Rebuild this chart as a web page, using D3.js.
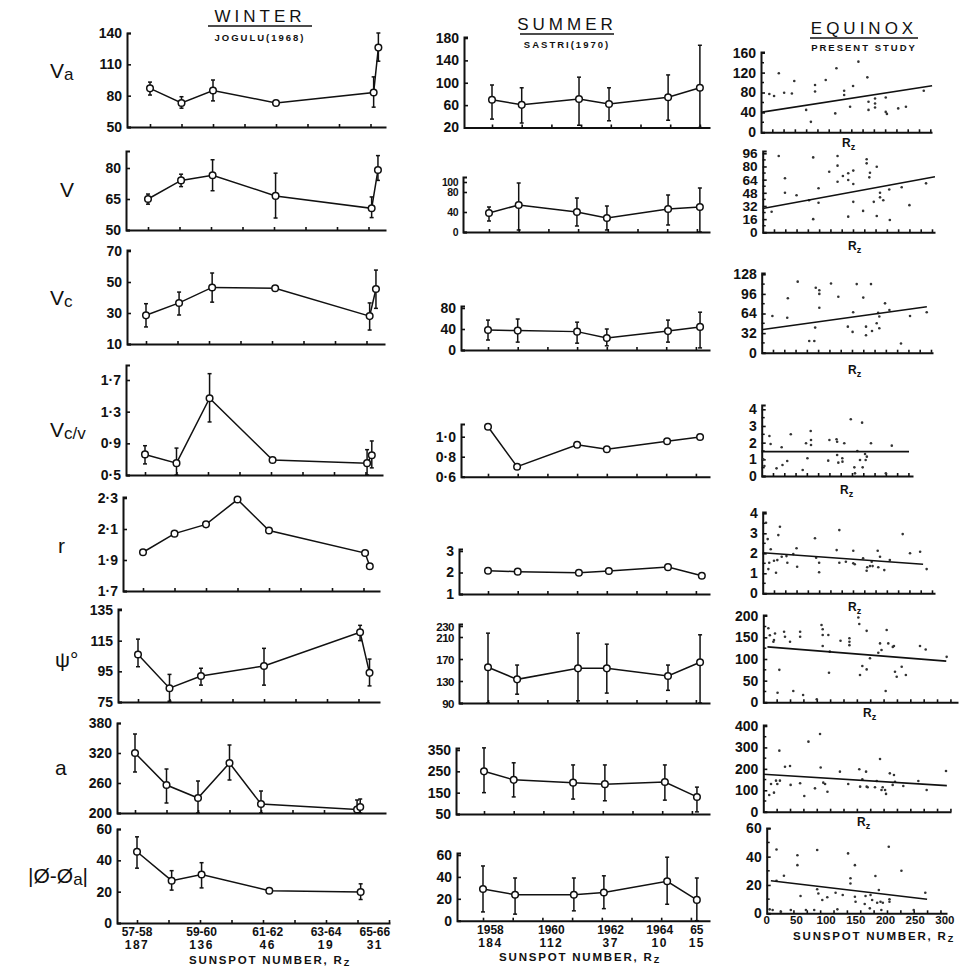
<!DOCTYPE html>
<meta charset="utf-8">
<style>
body { margin: 0; background: #fff; }
svg { font-family: "Liberation Sans", Arial, sans-serif; }
.axis path { stroke: #111; stroke-width: 2; fill: none; }
.axis line { stroke: #111; stroke-width: 1.6; }
.axis text { fill: #111; font-weight: bold; }
.series { fill: none; stroke: #111; stroke-width: 1.5; }
.err { stroke: #111; stroke-width: 1.5; }
.pt { fill: #fff; stroke: #111; stroke-width: 1.5; }
.dot { fill: #333; }
.fit { stroke: #111; stroke-width: 1.6; }
.lbl { fill: #111; font-weight: bold; }
</style>
<svg width="969" height="970"></svg>
<script src="https://cdn.jsdelivr.net/npm/d3@7"></script>
<script>

var svg = d3.select("svg");

// ---------- data ----------
var winterTicks = [[50,80,110,140],[50,65,80],[10,30,50,70],[0.5,0.9,1.3,1.7],[1.7,1.9,2.1,2.3],[75,95,115,135],[200,260,320,380],[0,20,40,60]];
var summerTicks = [[20,60,100,140,180],[0,40,80,100],[0,40,80],[0.6,0.8,1.0],[1,2,3],[90,130,170,210,230],[50,150,250,350],[0,20,40,60]];
var equinoxTicks = [[0,40,80,120,160],[0,16,32,48,64,80,96],[0,32,64,96,128],[0,1,2,3,4],[0,1,2,3,4],[0,50,100,150,200],[0,100,200,300,400],[0,20,40,60]];
var tickDecimals = [0,0,0,1,1,0,0,0];
var summerDecimals = [0,0,0,1,0,0,0,0];

// winter (Jogulu 1968): x position in tick units, mean, error bar low / high
var winterPos = [[0,1,2,4,7.1,7.25],[0,1.05,2.05,4.05,7.1,7.3],[0,1.05,2.1,4.1,7.1,7.3],[0,1,2.05,4.05,7.05,7.2],
                 [0,1,2,3,4,7.05,7.2],[0,1,2,4,7.05,7.35],[0,1,2,3,4,7.05,7.15],[0,1.1,2.05,4.2,7.1]];
var winterMean = [[87,73,85,73,83,126],[65,74,76.5,66.5,60.5,79],[28.5,36.5,46.5,46,28,45.5],[0.76,0.65,1.47,0.69,0.65,0.75],
                  [1.95,2.07,2.13,2.29,2.09,1.945,1.86],[106,84,92,98.5,120.5,94],[320,256,230,300,218,207,212],[45.5,27,31,20.6,19.8]];
var winterLo = [[80.6,68,75,null,69,113],[62.5,71,69,55.8,56,74],[21,28.7,37,null,19,33],[0.64,0.5,1.17,null,0.5,0.59],
                [null,null,null,null,null,null,null],[98,75.5,86,86,115,85.5],[282,220,200,266,200,200,200],[35,21,22.4,null,15]];
var winterHi = [[93,79,95,null,98,140],[67.4,77,84,77.5,66,86],[36,43.5,55.8,null,36.5,57.7],[0.87,0.84,1.78,null,0.82,0.93],
                [null,null,null,null,null,null,null],[116,93,97,110,125,103],[358,288,264,336,244,226,228],[55,33.4,38.5,null,25]];
var winterYears = ["57-58","59-60","61-62","63-64","65-66"];
var winterRz = ["187","136","46","19","31"];
var winterLabelPos = [0,2.05,4.15,6,7.55];

// summer (Sastri 1970)
var summerPos = [[0,1,2.93,3.94,5.93,7.0],[0,1,2.96,3.97,6.03,7.1],[0,1,3,4,6.06,7.14],[0,0.98,3,4,6.03,7.14],
                 [0,1,3.06,4.07,6.06,7.2],[0,0.98,3.03,4,6.06,7.14],[0,1,3,4.07,6.09,7.17],[0,1.08,3.06,4.07,6.2,7.2]];
var summerMean = [[69.5,60.5,71,62,74,91],[38,54,40,28,46,50],[38,37,35,23,36,44],[1.1,0.7,0.92,0.874,0.955,0.997],
                  [2.08,2.04,1.99,2.07,2.25,1.85],[155,133,153,153,139,164],[250,210,197,190,200,130],[29,23.7,23.7,25.8,36,19]];
var summerLo = [[35,28,24,32,33,20],[22,4,12,4,14,0],[19,15,13,8,15,4],[null,null,null,null,null,null],
                [null,null,null,null,null,null],[90,106,94,108,113,90],[150,130,120,112,115,60],[8,6,9,11,15,0]];
var summerHi = [[96,91,110,91,114,167],[50,98,68,52,74,88],[57,59,53,40,57,72],[null,null,null,null,null,null],
                [null,null,null,null,null,null],[217,159,217,197,159,214],[360,290,280,280,280,176],[50,39,39,41,58,39]];
var summerYears = ["1958","1960","1962","1964","65"];
var summerRz = ["184","112","37","10","15"];
var summerLabelPos = [0.25,2.3,4.3,5.95,7.2];

// equinox (present study): [Rz, value]
var eqVa = [[14,77],[22,73],[30,118.6],[39,79.6],[52,78],[56,103],[76,45],[84,21],[91,95],[91,82],[109,105],[125,38],[127,128.6],
  [140,83.6],[140,75],[150,51.5],[155,93],[164,142],[179,110.5],[181,61.5],[181,45],[192,68],[192,58],[192,50],[210,70],[210,41],
  [212,37],[231,48],[244,51.5],[274,83.6]];
var eqV = [[15,25],[27,92.7],[37.5,65.6],[37.5,48],[57,45],[78,39],[85,91],[85,16],[94,53.5],[94,36],[112,73.6],[126,92.7],[126,81],
  [126,61.5],[135,68.4],[144,71.7],[144,63.5],[152.5,75],[152.5,58.7],[152.5,37],[144,19],[169,26],[175,88.7],[175,83.8],[179.5,66.8],
  [180.6,72.4],[187,37],[192,79.7],[192,19.8],[197.5,48],[197.5,42.5],[203,39],[213,52],[214,15],[234,54.7],[247,33],[275,59.5]];
var eqVc = [[18,60],[44,88.8],[43,57],[60.6,116],[80,19],[88.6,19],[90,41],[91,106],[97,102],[97,96],[97,73.5],[116.7,113],[129,91.4],
  [145,42.5],[153,34],[154,66],[160,112],[171,90],[175.6,42.5],[175.6,28.4],[184,112],[185.7,35.4],[193.6,48],[196,65],[198,59],
  [198,40],[207.6,80.6],[215,69.7],[234.5,15],[249.7,60],[277.8,66]];
var eqRatio = [[2.8,1.0],[4.5,0.6],[13,2.4],[15,1.92],[25,0.46],[33.6,1.72],[35,0.66],[43,0.9],[49,2.5],[69,0.36],[74.6,1.96],[77,1.06],
  [82.5,2.7],[83,2.16],[83,1.86],[112,0.92],[114,2.16],[126,2.2],[127,2.05],[127,1.26],[129,0.8],[135.7,1.06],[136,0.86],[139,1.96],
  [150,3.4],[156,0.52],[157,0.16],[161,1.5],[165.5,0.96],[169,3.2],[170,0.52],[174,1.32],[175,0.96],[177,1.16],[184,1.96],[209,0.16],[219,1.82]];
var eqR = [[5.6,3.53],[8.4,2.71],[9.5,1.21],[11,1.53],[13.5,2.2],[19,1.63],[22.4,1.03],[24.6,1.66],[26.3,2.91],[29,3.33],[32,1.83],
  [40,1.86],[41.5,1.53],[51.5,1.96],[57,2.25],[58,1.33],[88,2.75],[90,1.78],[95,1.53],[95,1.05],[124.5,2.16],[129,3.16],[129,1.53],
  [140,1.58],[152.5,2.13],[152.5,1.5],[155,1.45],[169,1.75],[175,1.13],[176,1.3],[180.6,1.36],[183.5,1.58],[185,1.36],[193.6,2.13],
  [194.6,1.3],[197.5,1.83],[204.7,1.16],[214,1.66],[235.7,2.96],[248,2.0],[265,2.08],[276,1.21]];
var eqPsi = [[8.5,171],[11,155],[17,140],[18,144],[19.7,159],[24,22],[27,75],[35,163],[36.5,151.5],[45,140],[50.5,26],[62,163],
  [62,151.5],[67,17],[90,7],[98,178.5],[100,168.6],[100,155.4],[100,130],[109.5,155.4],[110.6,68.4],[112,117],[130,142],[145,147.8],
  [145,140],[145,132],[160,196],[161.6,181],[162.8,63],[166.7,84],[174,165],[174,76],[179.6,101.6],[193.6,114.5],[196.5,136],
  [199,120.8],[206,26],[207.7,167],[210.4,136],[218,128],[220,130],[221.7,70.7],[224.6,59],[233,82],[240,63],[263.8,130],[273.4,122],[308.7,105]];
var eqA = [[10,78],[13,129],[18,89],[21.4,145],[23.6,129],[28,145],[27,285],[36.5,210],[45,213],[46,125],[62,133],[69,73],[76,327],
  [87,109],[95.5,363],[96.6,206],[101,135.5],[104,129],[108,93],[129,187],[143,129],[161.6,198],[163,117],[166.7,151],[173,187],
  [174,117],[175.7,114],[188,114],[191,143],[196.5,246],[199,101],[201,114],[205,101],[206.6,83],[213,179],[217.8,125],[220,171.5],
  [221.7,140],[235.7,120],[261,143],[275,101],[307.6,190]];
var eqPhi = [[5,2.8],[10,2.3],[16.5,45],[16.5,23],[24,1.1],[29,26.5],[40.6,2.3],[51.7,41],[51.7,34],[57,12.2],[66,2.3],[80,2.3],
  [85,44.7],[85,17],[87,14],[93.6,9.4],[102,11.3],[116,14.5],[119,2.8],[128,12.9],[137,42.3],[141,24.7],[141,21],[148.5,34],
  [148.5,11.7],[149.6,8.2],[165,6.6],[166.4,12.2],[173.6,3.5],[174.8,12.9],[177.5,9.4],[183,26.3],[186,7.5],[188.8,16.4],[191.6,8.2],
  [193,2.3],[195.5,7.5],[205.5,47],[206.7,9.9],[206.7,8.2],[226.8,30],[247.5,2.3],[267,14.5]];
var equinoxPoints = [eqVa, eqV, eqVc, eqRatio, eqR, eqPsi, eqA, eqPhi];
// regression line end points [Rz, value]
var eqFit = [[[0,40.2],[288,93.6]],[[0,29],[290,67.6]],[[2,38],[278,75]],[[0,1.46],[248,1.46]],
             [[0,2.03],[270,1.45]],[[7,128],[308,95]],[[0,175],[309,121.5]],[[7,23],[270,9.9]]];
var eqBottomTicks = [0,50,100,150,200,250,300];

// ---------- layout ----------
var winterLayout = [
  {x0:127, xEnd:386, t0:150, yB:127, yT:33, top:33},
  {x0:126, xEnd:386, t0:148, yB:230, yT:168, top:151},
  {x0:127, xEnd:385, t0:146, yB:344, yT:251, top:250},
  {x0:126, xEnd:383, t0:145, yB:475, yT:380, top:365},
  {x0:123, xEnd:380, t0:143, yB:591, yT:498, top:497},
  {x0:118, xEnd:380, t0:138, yB:702, yT:610, top:609},
  {x0:117, xEnd:386, t0:135, yB:813, yT:723, top:723},
  {x0:117, xEnd:390, t0:137, yB:923, yT:829, top:829}
];
var summerLayout = [
  {x0:464, xEnd:710, t0:492, yB:127.5, yT:38, top:37},
  {x0:463, xEnd:710, t0:489, yB:232, yT:182, top:177},
  {x0:461, xEnd:710, t0:488, yB:350, yT:308, top:306},
  {x0:461, xEnd:710, t0:488, yB:476.7, yT:436.7, top:424},
  {x0:459, xEnd:710, t0:488, yB:594, yT:551, top:549},
  {x0:459, xEnd:710, t0:488, yB:703, yT:626, top:624},
  {x0:456, xEnd:710, t0:484, yB:814, yT:750, top:748},
  {x0:457, xEnd:710, t0:483, yB:920.7, yT:855, top:853}
];
var equinoxLayout = [
  {x0:761, xEnd:932, yB:132.3, yT:52.7, top:52, step:19, rz:[842,147]},
  {x0:762.7, xEnd:935, yB:232.3, yT:153.3, top:151, step:19, rz:[848,250]},
  {x0:761.7, xEnd:933, yB:352.7, yT:274.3, top:273, step:19, rz:[848,374]},
  {x0:761.7, xEnd:913, yB:476, yT:409.3, top:405, step:19, rz:[840,494]},
  {x0:762.7, xEnd:935, yB:593.3, yT:513.3, top:512, step:19, rz:[848,611]},
  {x0:763.3, xEnd:958, yB:702.3, yT:615.7, top:615, step:22.5, rz:[863,717]},
  {x0:763.3, xEnd:951, yB:811.7, yT:726, top:725, step:22.5, rz:[857,826]},
  {x0:766.7, xEnd:947, yB:913.3, yT:828.3, top:828, step:22.5, rz:null}
];
var tickSpacing = {winter:31.5, summer:29.7};
var rzPx = 0.594; // px per unit of Rz

// ---------- helpers ----------
function fmtFor(dec) {
  return function(d) { return dec ? d3.format(".1f")(d).replace(".", "·") : String(d); };
}

function yAxis(L, ticks, dec) {
  var y = d3.scaleLinear().domain([ticks[0], ticks[ticks.length-1]]).range([L.yB, L.yT]);
  var yAx = y.copy().domain([ticks[0], y.invert(L.top)]).range([L.yB, L.top]);
  // crowded axes get smaller, tighter labels
  var gap = d3.min(d3.pairs(ticks), function(p) { return Math.abs(y(p[0]) - y(p[1])); });
  var fs = Math.max(10.5, Math.min(14, gap + 0.5));
  var g = svg.append("g").attr("class", "axis").attr("transform", "translate(" + L.x0 + ",0)")
    .call(d3.axisLeft(yAx).tickValues(ticks).tickSize(-4).tickSizeOuter(-4).tickPadding(5).tickFormat(fmtFor(dec)));
  g.attr("font-family", null).attr("font-size", fs);
  if (gap < 13) g.selectAll(".tick text").attr("dy", "0.36em").attr("letter-spacing", -0.5);
  return y;
}

function xAxis(x, L, tickVals) {
  var xAx = x.copy().domain([x.invert(L.x0), x.invert(L.xEnd)]).range([L.x0, L.xEnd]);
  svg.append("g").attr("class", "axis").attr("transform", "translate(0," + L.yB + ")")
    .call(d3.axisBottom(xAx).tickValues(tickVals.filter(function(t) { return xAx(t) > L.x0 + 3 && xAx(t) <= L.xEnd; }))
      .tickSize(-3).tickSizeOuter(0).tickFormat(""));
  return xAx;
}

function linePanel(L, ticks, dec, pos, mean, lo, hi, spacing) {
  var y = yAxis(L, ticks, dec);
  var x = d3.scaleLinear().domain([0, 1]).range([L.t0, L.t0 + spacing]);
  xAxis(x, L, d3.range(0, 9));
  var pts = pos.map(function(p, i) { return {x: p, v: mean[i], lo: lo[i], hi: hi[i]}; });
  svg.append("path").datum(pts).attr("class", "series")
    .attr("d", d3.line().x(function(d) { return x(d.x); }).y(function(d) { return y(d.v); }));
  var eb = svg.append("g").selectAll("g").data(pts.filter(function(d) { return d.lo != null; })).enter().append("g");
  eb.append("line").attr("class", "err")
    .attr("x1", function(d) { return x(d.x); }).attr("x2", function(d) { return x(d.x); })
    .attr("y1", function(d) { return y(d.lo); }).attr("y2", function(d) { return y(d.hi); });
  ["lo", "hi"].forEach(function(k) {
    eb.append("line").attr("class", "err")
      .attr("x1", function(d) { return x(d.x) - 2; }).attr("x2", function(d) { return x(d.x) + 2; })
      .attr("y1", function(d) { return y(d[k]); }).attr("y2", function(d) { return y(d[k]); });
  });
  svg.append("g").selectAll("circle").data(pts).enter().append("circle").attr("class", "pt")
    .attr("cx", function(d) { return x(d.x); }).attr("cy", function(d) { return y(d.v); }).attr("r", 3.3);
  return x;
}

// ---------- winter & summer ----------
var winterX, summerX;
for (var i = 0; i < 8; i++) {
  winterX = linePanel(winterLayout[i], winterTicks[i], tickDecimals[i], winterPos[i], winterMean[i], winterLo[i], winterHi[i], tickSpacing.winter);
  summerX = linePanel(summerLayout[i], summerTicks[i], summerDecimals[i], summerPos[i], summerMean[i], summerLo[i], summerHi[i], tickSpacing.summer);
}

// ---------- equinox ----------
equinoxLayout.forEach(function(L, i) {
  var ticks = equinoxTicks[i];
  var y = yAxis(L, ticks, 0);
  var minor = d3.range(0, ticks.length - 1).map(function(k) { return (ticks[k] + ticks[k+1]) / 2; });
  svg.append("g").selectAll("line").data(minor).enter().append("line").attr("class", "err")
    .attr("x1", L.x0).attr("x2", L.x0 + 3).attr("y1", function(d) { return y(d); }).attr("y2", function(d) { return y(d); });
  var x = d3.scaleLinear().domain([0, 300]).range([L.x0, L.x0 + 300 * rzPx]);
  xAxis(x, L, d3.range(0, 340, L.step));
  svg.append("g").selectAll("circle").data(equinoxPoints[i]).enter().append("circle").attr("class", "dot")
    .attr("cx", function(d) { return x(d[0]); }).attr("cy", function(d) { return y(d[1]); }).attr("r", 1.3);
  svg.append("line").attr("class", "fit")
    .attr("x1", x(eqFit[i][0][0])).attr("y1", y(eqFit[i][0][1]))
    .attr("x2", x(eqFit[i][1][0])).attr("y2", y(eqFit[i][1][1]));
  if (L.rz) {
    var t = svg.append("text").attr("class", "lbl").attr("x", L.rz[0]).attr("y", L.rz[1]).attr("font-size", 12);
    t.append("tspan").text("R");
    t.append("tspan").attr("dy", 3).attr("font-size", 9).text("z");
  }
  if (i === 7) {
    svg.append("g").selectAll("text").data(eqBottomTicks).enter().append("text").attr("class", "lbl")
      .attr("x", function(d) { return x(d); }).attr("y", 924).attr("text-anchor", "middle").attr("font-size", 11.5)
      .text(function(d) { return d; });
  }
});

// ---------- bottom x labels ----------
function bottomLabels(x, pos, years, rz, y1, y2) {
  var g = svg.append("g").selectAll("g").data(pos).enter().append("g");
  g.append("text").attr("class", "lbl").attr("x", function(d) { return x(d); }).attr("y", y1)
    .attr("text-anchor", "middle").attr("font-size", 12).text(function(d, i) { return years[i]; });
  g.append("text").attr("class", "lbl").attr("x", function(d) { return x(d); }).attr("y", y2)
    .attr("text-anchor", "middle").attr("font-size", 12).attr("letter-spacing", 1.5).text(function(d, i) { return rz[i]; });
}
bottomLabels(winterX, winterLabelPos, winterYears, winterRz, 936, 949);
bottomLabels(summerX, summerLabelPos, summerYears, summerRz, 934, 947);

function sunspotTitle(cx, yb) {
  var t = svg.append("text").attr("class", "lbl").attr("x", cx).attr("y", yb).attr("text-anchor", "middle")
    .attr("font-size", 11.5).attr("letter-spacing", 1.8);
  t.append("tspan").text("SUNSPOT NUMBER, R");
  t.append("tspan").attr("dy", 2).attr("font-size", 9).text("Z");
}
sunspotTitle(270, 964);
sunspotTitle(580, 961);
sunspotTitle(874, 940);

// ---------- headers ----------
function header(title, sub, cx, y1, y2, w) {
  svg.append("text").attr("x", cx).attr("y", y1).attr("text-anchor", "middle").attr("font-size", 17)
    .attr("letter-spacing", 4).attr("fill", "#111").text(title);
  svg.append("line").attr("x1", cx - w / 2).attr("x2", cx + w / 2).attr("y1", y1 + 4).attr("y2", y1 + 4)
    .attr("stroke", "#111").attr("stroke-width", 1.5);
  svg.append("text").attr("class", "lbl").attr("x", cx).attr("y", y2).attr("text-anchor", "middle")
    .attr("font-size", 9.5).attr("letter-spacing", 2).text(sub);
}
header("WINTER", "JOGULU(1968)", 260, 22, 41, 104);
header("SUMMER", "SASTRI(1970)", 567, 30, 48, 94);
header("EQUINOX", "PRESENT STUDY", 864, 34, 51, 108);

// ---------- row names ----------
var rowNames = [
  {main: "V", sub: "a", x: 50, y: 78},
  {main: "V", sub: "", x: 60, y: 197},
  {main: "V", sub: "c", x: 50, y: 305},
  {main: "V", sub: "c/v", x: 50, y: 437},
  {main: "r", sub: "", x: 58, y: 553},
  {main: "ψ°", sub: "", x: 55, y: 667},
  {main: "a", sub: "", x: 55, y: 775},
  {main: "|Ø-Ø", sub: "a", x: 28, y: 883, tail: "|"}
];
rowNames.forEach(function(r) {
  var t = svg.append("text").attr("x", r.x).attr("y", r.y).attr("font-size", 21).attr("fill", "#111");
  t.append("tspan").text(r.main);
  if (r.sub) t.append("tspan").attr("dy", 2).attr("font-size", 17).text(r.sub);
  if (r.tail) t.append("tspan").attr("dy", -2).text(r.tail);
});

</script>
